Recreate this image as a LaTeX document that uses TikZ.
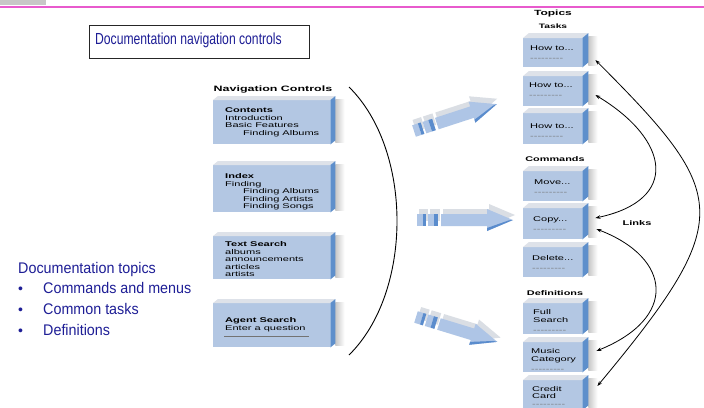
\documentclass[tikz,border=0pt]{standalone}
\usepackage{fontspec}
\setmainfont{Liberation Sans}
\newfontfamily\wf[FakeStretch=1.6]{Liberation Sans}
\newfontfamily\narrowf[FakeStretch=0.76]{Liberation Sans}
\newfontfamily\topf[FakeStretch=0.93]{Liberation Sans}
\usetikzlibrary{arrows.meta}
\definecolor{frontcol}{RGB}{179,199,227}
\definecolor{sidecol}{RGB}{94,143,203}
\definecolor{topcol}{RGB}{222,226,233}
\definecolor{docblue}{RGB}{30,30,150}
\definecolor{pinkcol}{RGB}{232,90,205}
\definecolor{arrtop}{RGB}{218,222,228}
\definecolor{arrfront}{RGB}{174,197,230}
\definecolor{arrdark}{RGB}{90,140,205}
\newcommand\dashrow{\textcolor{black!55}{-\kern0pt-\kern0pt-\kern0pt-\kern0pt-\kern0pt-\kern0pt-\kern0pt-\kern0pt-}}
\newcommand\boxdeco[3]{%
  \shade[left color=black!22,right color=white] ([shift={(#2,-#3+3)}]#1.north east) rectangle ([shift={(#2+9,-2)}]#1.south east);
  \fill[topcol] (#1.north west) -- ([shift={(#2,-#3)}]#1.north west) -- ([shift={(#2,-#3)}]#1.north east) -- (#1.north east) -- cycle;
  \fill[sidecol] (#1.north east) -- ([shift={(#2,-#3)}]#1.north east) -- ([shift={(#2,-#3)}]#1.south east) -- (#1.south east) -- cycle;
}
\tikzset{
  fatarrow/.pic={
    \begin{scope}[shift={(2,-5)}]
      \fill[arrtop] (0,-6) rectangle (9,6);
      \fill[arrtop] (11,-6) rectangle (21,6);
      \fill[arrtop] (24,-6) -- (#1-26,-6) -- (#1-26,-11) -- (#1,0) -- (#1-26,11) -- (#1-26,6) -- (24,6) -- cycle;
    \end{scope}
    \fill[arrfront] (0,-6) rectangle (6,6);
    \fill[arrdark] (6,-6) rectangle (9,6);
    \fill[arrfront] (11,-6) rectangle (17,6);
    \fill[arrdark] (17,-6) rectangle (21,6);
    \fill[arrfront] (24,-6) -- (#1-26,-6) -- (#1-26,-11) -- (#1,0) -- (#1-26,11) -- (#1-26,6) -- (24,6) -- cycle;
    \fill[arrdark] (#1-26,11) -- (#1,0) -- (#1-4,0.3) -- (#1-26,8) -- cycle;
  }
}
\begin{document}
\begin{tikzpicture}[x=1pt,y=-1pt,
  lbox/.style={fill=frontcol, inner sep=0, anchor=north west, minimum width=117pt},
  rbox/.style={fill=frontcol, inner sep=0, anchor=north west, minimum width=59pt, minimum height=30pt},
  btxt/.style={anchor=north west, align=left, inner sep=0, font=\wf\fontsize{6.9}{7.5}\selectfont},
  hdr/.style={inner sep=0, font=\wf\bfseries\fontsize{6.8}{8}\selectfont},
  doctxt/.style={anchor=base west, inner sep=0, text=docblue, font=\topf\fontsize{15.4}{18}\selectfont},
  bul/.style={anchor=base, inner sep=0, text=docblue, font=\fontsize{14}{16}\selectfont},
  linkarrow/.style={{Stealth[length=5pt,width=3.6pt]}-{Stealth[length=5pt,width=3.6pt]}, line width=0.8pt, black}
]
\useasboundingbox (0,0) rectangle (704,407);
\fill[white] (0,0) rectangle (704,407);
% header strip
\fill[black!22] (0,0) rectangle (46,5);
\draw[pinkcol, line width=1.2pt] (0,7) -- (704,7);

% title
\node[draw=black!85, line width=0.9pt, minimum width=220pt, minimum height=33pt, anchor=north west, inner sep=0] (titlebox) at (89,25) {};
\node[anchor=base west, inner sep=0, text=docblue, font=\narrowf\fontsize{16}{19}\selectfont] (title) at (95,44.5) {Documentation navigation controls};

% left topics
\node[doctxt] (doctopics) at (18,273.5) {Documentation topics};
\node[bul] (b1) at (20.5,293.5) {•};
\node[doctxt] (i1) at (43,293.5) {Commands and menus};
\node[bul] (b2) at (20.5,314.5) {•};
\node[doctxt] (i2) at (43,314.5) {Common tasks};
\node[bul] (b3) at (20.5,335.5) {•};
\node[doctxt] (i3) at (43,335.5) {Definitions};

% navigation controls
\node[hdr, font=\wf\bfseries\fontsize{7.8}{9}\selectfont] (navh) at (273,89) {Navigation Controls};
\node[lbox, minimum height=44pt] (contents) at (213,100) {};
\node[lbox, minimum height=47pt] (index) at (213,165) {};
\node[lbox, minimum height=43pt] (tsearch) at (213,236) {};
\node[lbox, minimum height=44pt] (agent) at (213,303) {};
\boxdeco{contents}{5}{4}
\boxdeco{index}{5}{4}
\boxdeco{tsearch}{5}{4}
\boxdeco{agent}{5}{4}
\node[btxt] (contents-t) at (225,107.5) {\textbf{Contents}\\Introduction\\Basic Features\\\hspace*{18pt}Finding Albums};
\node[btxt] (index-t) at (225,173.5) {\textbf{Index}\\Finding\\\hspace*{18pt}Finding Albums\\\hspace*{18pt}Finding Artists\\\hspace*{18pt}Finding Songs};
\node[btxt] (tsearch-t) at (225,241.5) {\textbf{Text Search}\\albums\\announcements\\articles\\artists};
\node[btxt] (agent-t) at (225,317.5) {\textbf{Agent Search}\\Enter a question};
\draw[black!55, line width=0.6pt] ([shift={(11,-11)}]agent.south west) -- ([shift={(96,-11)}]agent.south west);

% big bracket arc
\coordinate (arcT) at (349,87);
\coordinate (arcB) at (349,355);
\draw[line width=0.9pt] (arcT) .. controls (413,150) and (413,292) .. (arcB);

% fat arrows
\pic[rotate=18] (arrA) at (414,131) {fatarrow=87};
\pic (arrB) at (417,220) {fatarrow=96};
\pic[rotate=-17] (arrC) at (416,317) {fatarrow=85};

% topics column
\node[hdr, font=\wf\bfseries\fontsize{7.5}{9}\selectfont] (topics) at (553,14) {Topics};
\node[hdr, font=\wf\bfseries\fontsize{6.4}{8}\selectfont] (tasks) at (553,26) {Tasks};
\node[hdr] (commands) at (555,159) {Commands};
\node[hdr] (defs) at (555,293) {Definitions};
\node[hdr, font=\wf\bfseries\fontsize{6.9}{8}\selectfont] (links) at (637,223) {Links};

\node[rbox, minimum height=29pt] (t1) at (523,38) {};
\node[rbox] (t2) at (523,76) {};
\node[rbox, minimum height=31pt] (t3) at (523,113) {};
\node[rbox] (mv) at (523,171) {};
\node[rbox, minimum height=31pt] (cp) at (523,208) {};
\node[rbox] (dl) at (523,247) {};
\node[rbox, minimum height=31pt] (fs) at (523,303) {};
\node[rbox] (mc) at (523,342) {};
\node[rbox] (cc) at (523,380) {};
\foreach \b in {t1,t2,t3,mv,cp,dl,fs,mc,cc} {\boxdeco{\b}{6}{5}}

\node[btxt] (t1-t) at (530,45.5) {How to...\\[2.5pt]\dashrow};
\node[btxt] (t2-t) at (529,82.5) {How to...\\[2.5pt]\dashrow};
\node[btxt] (t3-t) at (530,123.5) {How to...\\[2.5pt]\dashrow};
\node[btxt] (mv-t) at (534,179.5) {Move...\\[2.5pt]\dashrow};
\node[btxt] (cp-t) at (533,216.5) {Copy...\\[2.5pt]\dashrow};
\node[btxt] (dl-t) at (532,255.5) {Delete...\\[2.5pt]\dashrow};
\node[btxt] (fs-t) at (533,309.5) {Full\\Search\\[2.5pt]\dashrow};
\node[btxt] (mc-t) at (531,348.5) {Music\\Category\\[2.5pt]\dashrow};
\node[btxt] (cc-t) at (532,386) {Credit\\Card\\[0.5pt]\dashrow};

% links
\draw[linkarrow] ([shift={(13,22)}]t1.north east) .. controls (730,195) and (737,218) .. ([shift={(15,6)}]cc.north east);
\draw[linkarrow] ([shift={(13,19)}]t2.north east) .. controls (670,140) and (680,200) .. ([shift={(13,10)}]cp.north east);
\draw[linkarrow] ([shift={(14,21)}]cp.north east) .. controls (672,258) and (678,318) .. ([shift={(14,9)}]mc.north east);
\end{tikzpicture}
\end{document}
